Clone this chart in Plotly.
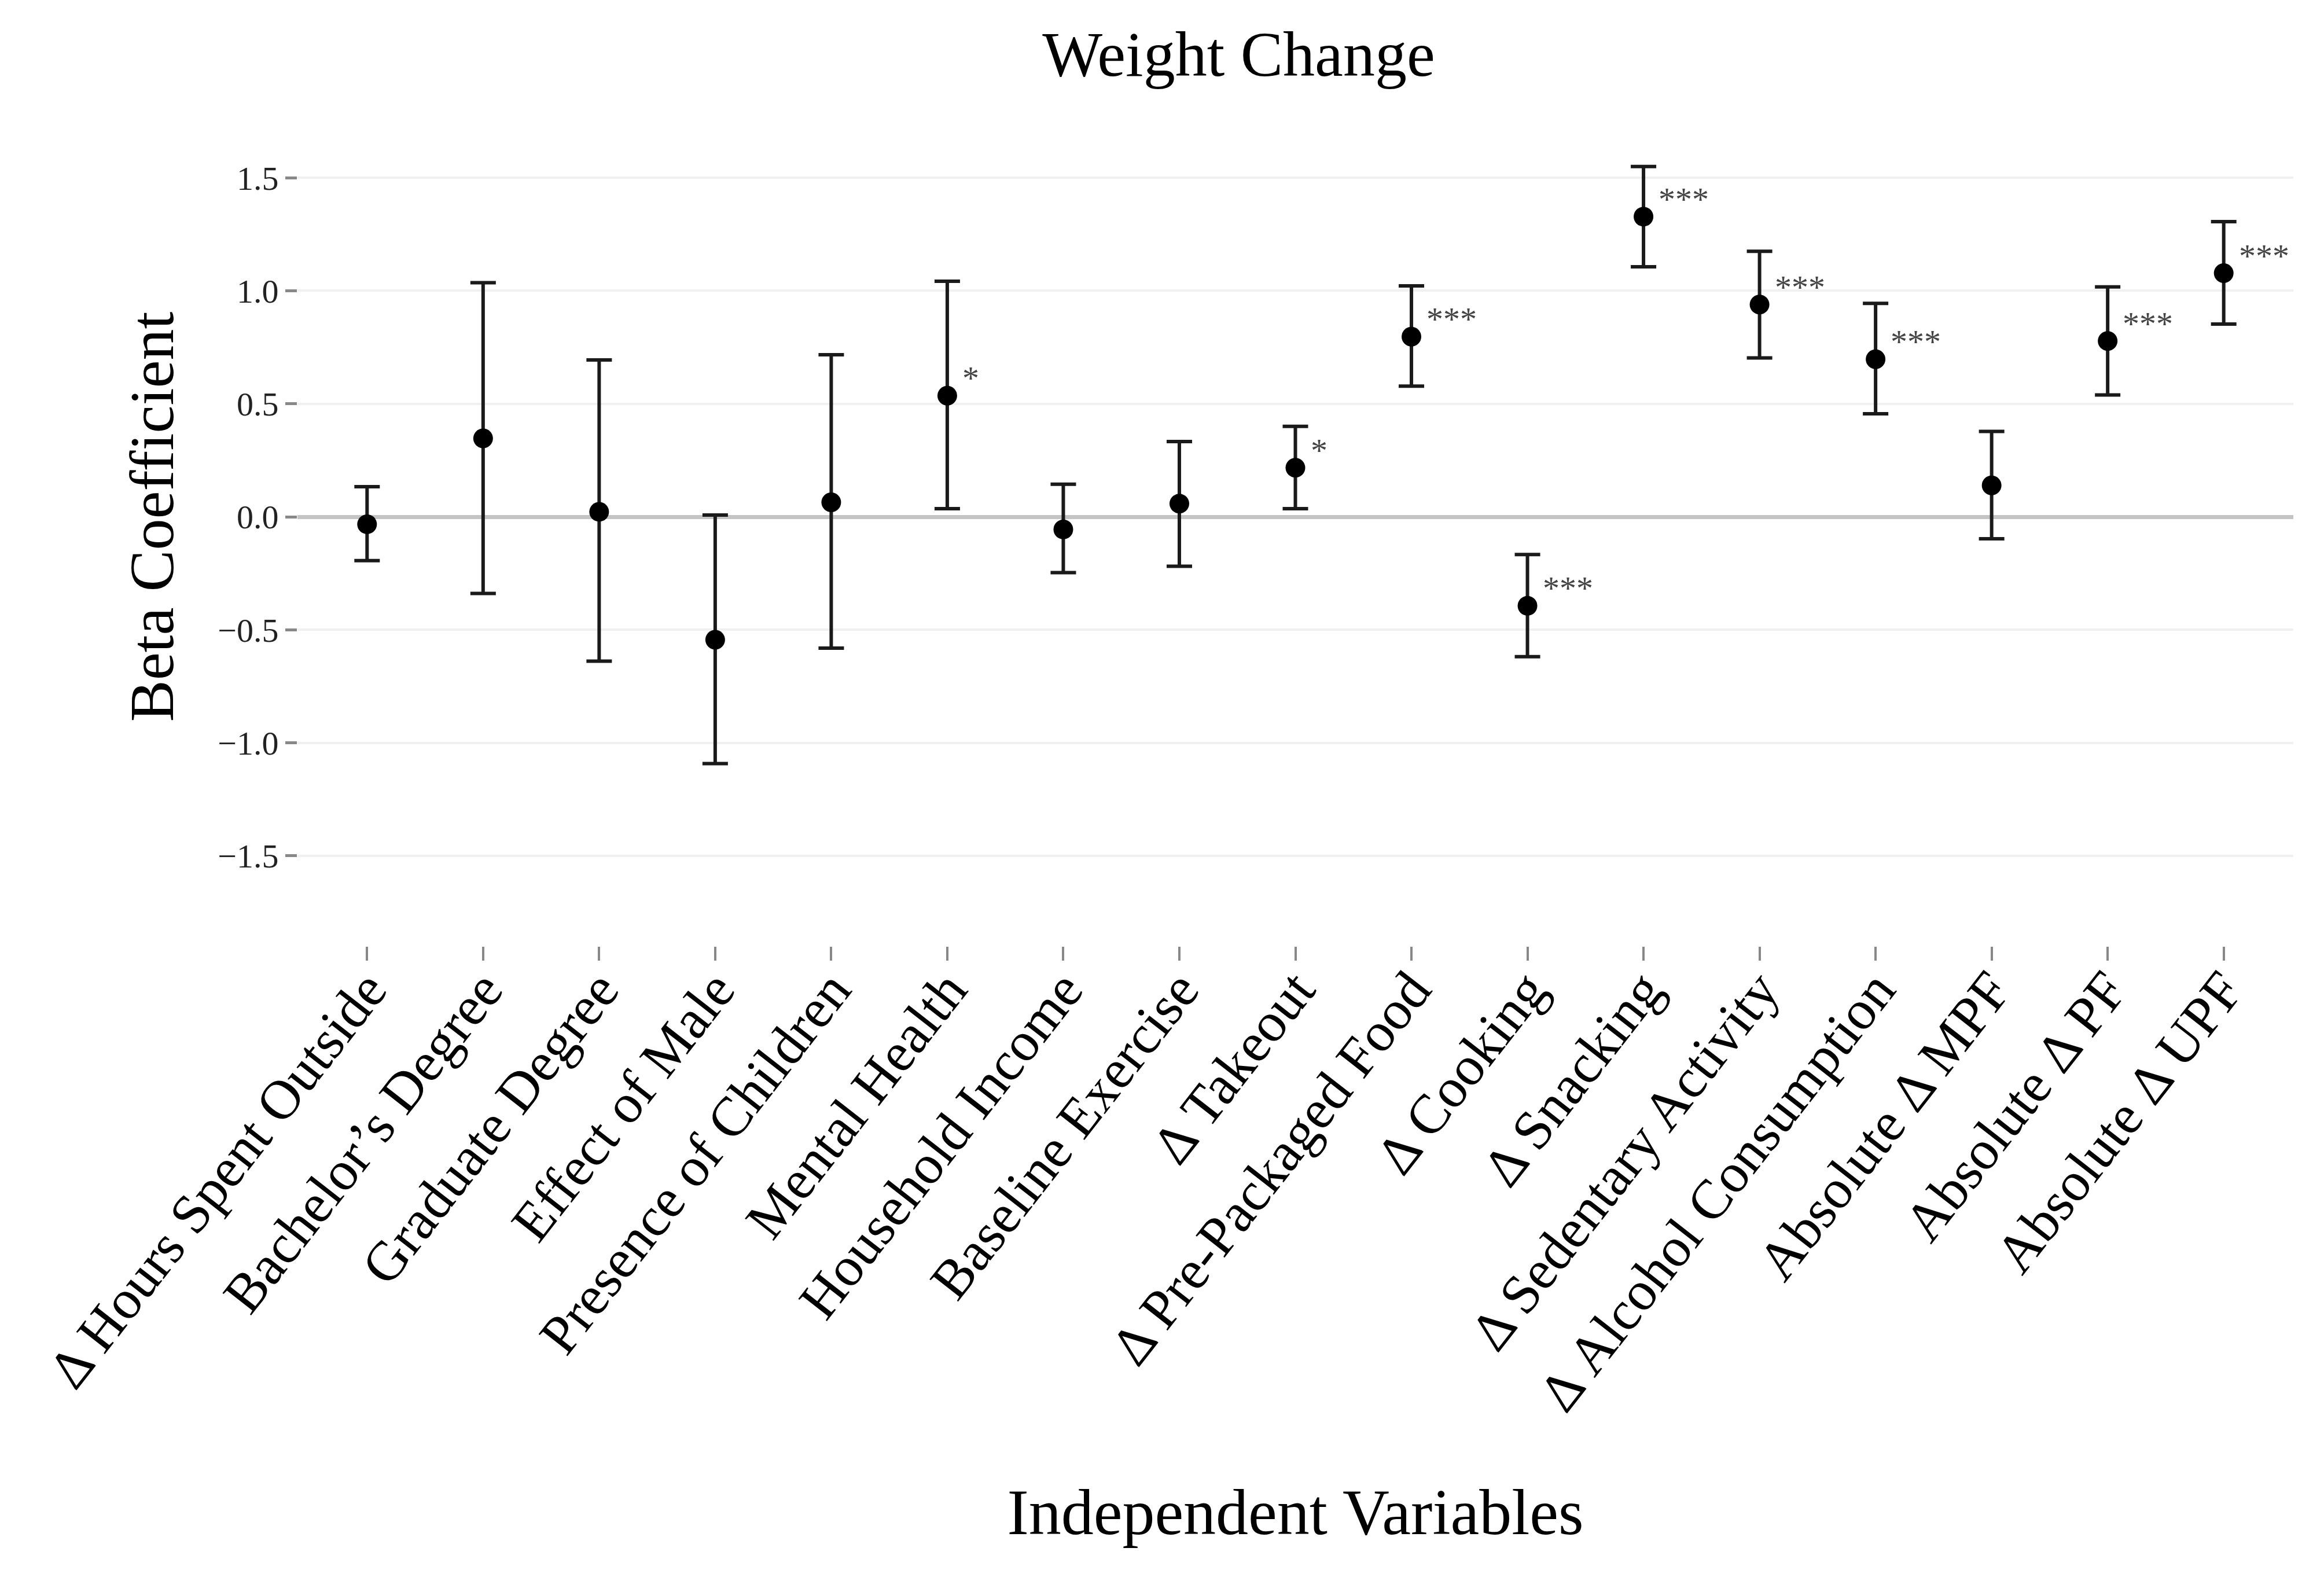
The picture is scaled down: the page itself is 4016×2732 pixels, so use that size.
import plotly.graph_objects as go

categories = [
    "Δ Hours Spent Outside", "Bachelor’s Degree", "Graduate Degree", "Effect of Male",
    "Presence of Children", "Mental Health", "Household Income", "Baseline Exercise",
    "Δ Takeout", "Δ Pre-Packaged Food", "Δ Cooking", "Δ Snacking",
    "Δ Sedentary Activity", "Δ Alcohol Consumption", "Absolute Δ MPF",
    "Absolute Δ PF", "Absolute Δ UPF",
]
beta = [-0.033, 0.347, 0.022, -0.544, 0.064, 0.536, -0.056, 0.058,
        0.217, 0.797, -0.394, 1.328, 0.939, 0.697, 0.139, 0.778, 1.078]
ci_upper = [0.133, 1.036, 0.694, 0.008, 0.717, 1.042, 0.144, 0.333,
            0.400, 1.022, -0.167, 1.550, 1.175, 0.944, 0.378, 1.017, 1.306]
ci_lower = [-0.194, -0.339, -0.639, -1.092, -0.581, 0.036, -0.247, -0.219,
            0.036, 0.578, -0.619, 1.106, 0.703, 0.456, -0.097, 0.539, 0.853]
significance = ["", "", "", "", "", "*", "", "", "*", "***", "***", "***",
                "***", "***", "", "***", "***"]
y_ticks = [-1.5, -1.0, -0.5, 0.0, 0.5, 1.0, 1.5]

err_plus = [u - b for u, b in zip(ci_upper, beta)]
err_minus = [b - l for b, l in zip(beta, ci_lower)]

FONT = "Liberation Serif"

fig = go.Figure()
fig.add_trace(go.Scatter(
    x=categories, y=beta, mode="markers",
    marker=dict(color="black", size=34),
    error_y=dict(type="data", symmetric=False, array=err_plus, arrayminus=err_minus,
                 color="#1a1a1a", thickness=6, width=22),
    showlegend=False,
))

for cat, b, s in zip(categories, beta, significance):
    if s:
        fig.add_annotation(x=cat, y=b, text=s, showarrow=False,
                           xanchor="left", yanchor="middle", xshift=24, yshift=30,
                           font=dict(family=FONT, size=58, color="#444"))

fig.update_layout(
    width=4016, height=2732,
    paper_bgcolor="white", plot_bgcolor="white",
    margin=dict(l=506, r=61, t=143, b=1105),
    title=dict(text="Weight Change", x=0.531, xref="container", xanchor="center",
               y=0.969, yref="container", yanchor="middle",
               font=dict(family=FONT, size=110, color="black")),
    font=dict(family=FONT, color="black"),
)
fig.update_xaxes(
    type="category", range=[-0.6, 16.6],
    tickangle=-52, tickfont=dict(family=FONT, size=96, color="black"),
    ticks="outside", ticklen=24, tickwidth=4, tickcolor="#888",
    ticklabelstandoff=-45,
    showgrid=False, showline=False, zeroline=False,
    title=dict(text="Independent Variables", standoff=115,
               font=dict(family=FONT, size=112, color="black")),
)
fig.update_yaxes(
    range=[-1.9, 1.9], tickvals=y_ticks, tickformat=".1f",
    tickfont=dict(family=FONT, size=58, color="#222"),
    ticks="outside", ticklen=20, tickwidth=5, tickcolor="#888",
    showgrid=True, gridcolor="#f0f0f0", gridwidth=4,
    zeroline=True, zerolinecolor="#c4c4c4", zerolinewidth=7,
    showline=False,
    title=dict(text="Beta Coefficient", standoff=40,
               font=dict(family=FONT, size=108, color="black")),
)

fig.write_html("out.html")
